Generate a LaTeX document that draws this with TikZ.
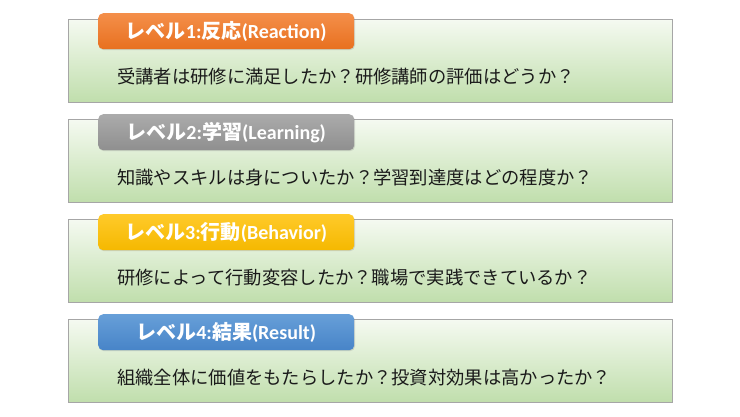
\documentclass[tikz,border=0pt]{standalone}
\usepackage{fontspec}
\setmainfont{Noto Sans CJK JP}
\newfontfamily\lat{Carlito}[BoldFont={* Bold}]
\usetikzlibrary{shadows}
\definecolor{boxtop}{HTML}{F5FAF1}
\definecolor{boxbot}{HTML}{C0DEAC}
\definecolor{boxline}{HTML}{A6A6A6}
\definecolor{oraT}{HTML}{F48F4A}
\definecolor{oraB}{HTML}{E8701F}
\definecolor{grayT}{HTML}{ABABAB}
\definecolor{grayB}{HTML}{8F8F8F}
\definecolor{yelT}{HTML}{FFCA2A}
\definecolor{yelB}{HTML}{F5B800}
\definecolor{bluT}{HTML}{679FD8}
\definecolor{bluB}{HTML}{4784C8}
\definecolor{txt}{HTML}{1A1A1A}
\tikzset{
  levelbox/.style={draw=boxline, line width=0.9pt, top color=boxtop, bottom color=boxbot,
    minimum width=604pt, minimum height=83pt, anchor=north west, inner sep=0pt},
  labelbox/.style={rounded corners=5pt, minimum width=256pt, minimum height=36pt,
    anchor=north west, inner sep=0pt, text=white, font=\bfseries\fontsize{20}{23}\selectfont,
    drop shadow={shadow xshift=0.8pt, shadow yshift=-1pt, opacity=0.25}},
  bodytext/.style={anchor=west, text=txt, font=\fontsize{18.3}{22}\selectfont, inner sep=0pt}
}
\newcommand\lt[1]{{\lat\bfseries #1}}
\begin{document}
\begin{tikzpicture}[x=1pt,y=-1pt]
\useasboundingbox[fill=white] (0,0) rectangle (740,416);
% boxes
\node[levelbox] (b1) at (68,19) {};
\node[levelbox] (b2) at (68,119) {};
\node[levelbox] (b3) at (68,219) {};
\node[levelbox] (b4) at (68,319) {};
% labels
\node[labelbox, top color=oraT, bottom color=oraB] (l1) at (98,13)
  {レベル\lt{1:}反応\lt{(Reaction)}};
\node[labelbox, top color=grayT, bottom color=grayB] (l2) at (98,114)
  {レベル\lt{2:}学習\lt{(Learning)}};
\node[labelbox, top color=yelT, bottom color=yelB] (l3) at (98,214)
  {レベル\lt{3:}行動\lt{(Behavior)}};
\node[labelbox, top color=bluT, bottom color=bluB] (l4) at (98,314)
  {レベル\lt{4:}結果\lt{(Result)}};
% body text
\node[bodytext] (t1) at (117,77) {受講者は研修に満足したか？研修講師の評価はどうか？};
\node[bodytext] (t2) at (117,178) {知識やスキルは身についたか？学習到達度はどの程度か？};
\node[bodytext] (t3) at (117,278) {研修によって行動変容したか？職場で実践できているか？};
\node[bodytext] (t4) at (117,378) {組織全体に価値をもたらしたか？投資対効果は高かったか？};
\end{tikzpicture}
\end{document}
